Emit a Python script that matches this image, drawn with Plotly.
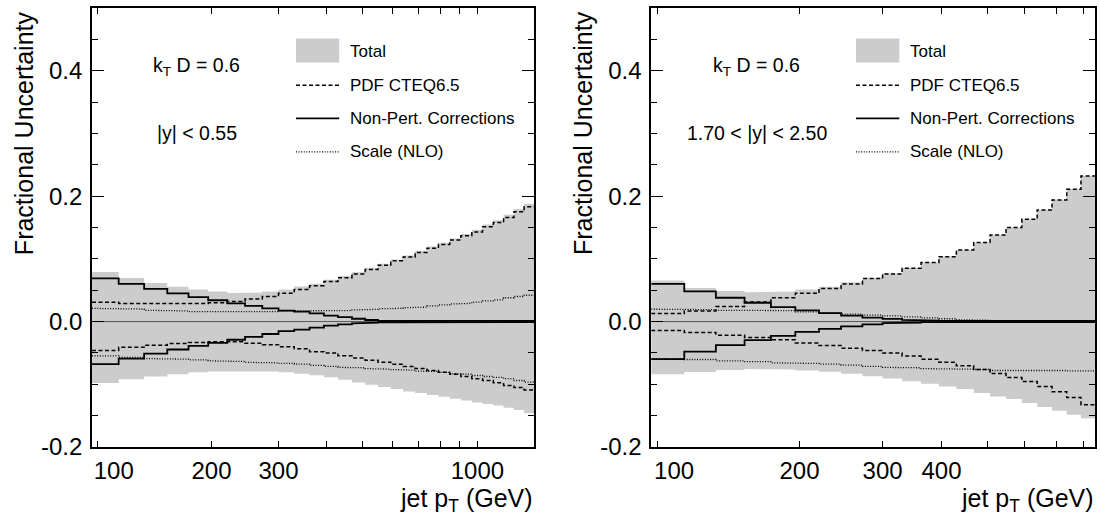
import math
import plotly.graph_objects as go

# ---------------- data ----------------
pt_edges_left = [97, 114, 133, 153, 174, 196, 220, 245, 272, 300, 330, 362, 395, 430, 468,
                 507, 548, 592, 638, 686, 737, 790, 846, 905, 967, 1032, 1101, 1172, 1248,
                 1327, 1410]
pt_edges_right = [97, 114, 133, 153, 174, 196, 220, 245, 272, 300, 330, 362, 395, 430, 468,
                  507, 548, 592, 638, 686, 737, 790, 846]

# |y| < 0.55
total_up_left = [0.079, 0.0696, 0.0616, 0.0555, 0.051, 0.048, 0.0457, 0.0462, 0.048, 0.051,
                 0.056, 0.0603, 0.0665, 0.0725, 0.0788, 0.0857, 0.0921, 0.0989, 0.1053, 0.1124,
                 0.1196, 0.1258, 0.1326, 0.1395, 0.1463, 0.1546, 0.1617, 0.1703, 0.1795, 0.1878]
total_lo_left = [-0.098, -0.0918, -0.0875, -0.0838, -0.081, -0.0796, -0.0785, -0.079, -0.0796,
                 -0.081, -0.0833, -0.0854, -0.0886, -0.0928, -0.097, -0.1008, -0.1045, -0.1077,
                 -0.1115, -0.114, -0.117, -0.120, -0.123, -0.126, -0.129, -0.1316, -0.134,
                 -0.1374, -0.141, -0.146]
pdf_up_left = [0.031, 0.029, 0.028, 0.028, 0.029, 0.030, 0.032, 0.036, 0.040, 0.045, 0.051,
               0.057, 0.064, 0.070, 0.076, 0.083, 0.090, 0.097, 0.103, 0.110, 0.117, 0.123,
               0.130, 0.137, 0.143, 0.151, 0.158, 0.166, 0.175, 0.183]
pdf_lo_left = [-0.046, -0.041, -0.0376, -0.035, -0.0334, -0.032, -0.0323, -0.0345, -0.037,
               -0.040, -0.0435, -0.048, -0.050, -0.0546, -0.058, -0.0615, -0.0647, -0.068,
               -0.0716, -0.0748, -0.078, -0.081, -0.084, -0.0876, -0.091, -0.094, -0.0976,
               -0.102, -0.105, -0.109]
np_up_left = [0.069, 0.060, 0.052, 0.045, 0.039, 0.034, 0.029, 0.025, 0.021, 0.0175, 0.016,
              0.013, 0.0095, 0.007, 0.0045, 0.0025, 0.0012, 0.001, 0.001, 0.001, 0.001, 0.001,
              0.001, 0.001, 0.001, 0.001, 0.001, 0.001, 0.001, 0.001]
np_lo_left = [-0.068, -0.059, -0.051, -0.0445, -0.0387, -0.034, -0.029, -0.0244, -0.0198,
              -0.0153, -0.013, -0.0095, -0.0065, -0.0045, -0.0028, -0.0018, -0.0012, -0.001,
              -0.001, -0.001, -0.001, -0.001, -0.001, -0.001, -0.001, -0.001, -0.001, -0.001,
              -0.001, -0.001]
scale_up_left = [0.021, 0.020, 0.018, 0.017, 0.016, 0.0155, 0.015, 0.0155, 0.016, 0.017, 0.017,
                 0.0165, 0.017, 0.0175, 0.0185, 0.0195, 0.0205, 0.021, 0.022, 0.023, 0.025,
                 0.0265, 0.028, 0.029, 0.031, 0.033, 0.0345, 0.038, 0.040, 0.042]
scale_lo_left = [-0.0546, -0.057, -0.059, -0.060, -0.061, -0.0626, -0.0637, -0.065, -0.0658,
                 -0.0668, -0.068, -0.070, -0.0716, -0.073, -0.0737, -0.075, -0.0758, -0.0765,
                 -0.0775, -0.079, -0.0796, -0.081, -0.083, -0.084, -0.086, -0.0876, -0.089,
                 -0.091, -0.094, -0.0966]

# 1.70 < |y| < 2.50
total_up_right = [0.0653, 0.0537, 0.0489, 0.0468, 0.0478, 0.051, 0.0557, 0.0627, 0.070, 0.077,
                  0.0855, 0.0943, 0.1037, 0.1141, 0.1261, 0.1381, 0.1501, 0.1631, 0.1781,
                  0.1941, 0.2111, 0.2321]
total_lo_right = [-0.0838, -0.0806, -0.0774, -0.0758, -0.0764, -0.078, -0.080, -0.0833, -0.087,
                  -0.0908, -0.095, -0.099, -0.1035, -0.1077, -0.114, -0.1194, -0.1236, -0.130,
                  -0.1363, -0.142, -0.1486, -0.154]
pdf_up_right = [0.0127, 0.017, 0.024, 0.0314, 0.038, 0.045, 0.0526, 0.060, 0.0685, 0.076, 0.085,
                0.094, 0.1035, 0.114, 0.126, 0.138, 0.150, 0.163, 0.178, 0.194, 0.211, 0.232]
pdf_lo_right = [-0.0143, -0.0175, -0.0217, -0.0255, -0.029, -0.034, -0.038, -0.0424, -0.046,
                -0.050, -0.055, -0.060, -0.065, -0.0705, -0.0764, -0.083, -0.089, -0.0955,
                -0.1035, -0.112, -0.121, -0.1327]
np_up_right = [0.060, 0.048, 0.038, 0.030, 0.023, 0.0178, 0.0134, 0.0096, 0.0064, 0.0043, 0.0027,
               0.0015, 0.001, 0.001, 0.001, 0.001, 0.001, 0.001, 0.001, 0.001, 0.001, 0.001]
np_lo_right = [-0.060, -0.0478, -0.0375, -0.0295, -0.0228, -0.0165, -0.0115, -0.0075, -0.0045,
               -0.0025, -0.0015, -0.001, -0.001, -0.001, -0.001, -0.001, -0.001, -0.001,
               -0.001, -0.001, -0.001, -0.001]
scale_up_right = [0.0197, 0.019, 0.018, 0.0178, 0.0175, 0.0155, 0.0138, 0.0118, 0.0102, 0.009,
                  0.0075, 0.006, 0.0045, 0.003, 0.002, 0.0015, 0.001, 0.001, 0.001, 0.001,
                  0.001, 0.001]
scale_lo_right = [-0.059, -0.0605, -0.0626, -0.064, -0.0658, -0.0668, -0.068, -0.0695, -0.0716,
                  -0.073, -0.0737, -0.075, -0.0753, -0.076, -0.0764, -0.078, -0.078, -0.077,
                  -0.078, -0.078, -0.0785, -0.0785]

y_tick_vals = [-0.2, 0.0, 0.2, 0.4]
y_tick_text = ["-0.2", "0.0", "0.2", "0.4"]
x_label_vals_left = [100, 200, 300, 1000]
x_label_vals_right = [100, 200, 300, 400]
legend_labels = ["Total", "PDF CTEQ6.5", "Non-Pert. Corrections", "Scale (NLO)"]
jet_label = "k<sub>T</sub> D = 0.6"
rap_left = "|y| &lt; 0.55"
rap_right = "1.70 &lt; |y| &lt; 2.50"

# ---------------- layout geometry ----------------
W, H = 1100, 517
ML, MR, MT, MB = 92, 3, 8, 70
PW, PH = W - ML - MR, H - MT - MB
FONT = "Liberation Sans, Arial, Helvetica, sans-serif"
GRAY = "#cccccc"


def px2paper_x(px):
    return (px - ML) / PW


def px2paper_y(py):
    return 1 - (py - MT) / PH


def steps(edges, vals):
    xs, ys = [], []
    for i, v in enumerate(vals):
        xs += [edges[i], edges[i + 1]]
        ys += [v, v]
    return xs, ys


fig = go.Figure()

panels = [
    dict(edges=pt_edges_left, tu=total_up_left, tl=total_lo_left, pu=pdf_up_left,
         pl=pdf_lo_left, nu=np_up_left, nl=np_lo_left, su=scale_up_left, sl=scale_lo_left,
         xa="x", ya="y"),
    dict(edges=pt_edges_right, tu=total_up_right, tl=total_lo_right, pu=pdf_up_right,
         pl=pdf_lo_right, nu=np_up_right, nl=np_lo_right, su=scale_up_right,
         sl=scale_lo_right, xa="x2", ya="y2"),
]

for p in panels:
    e = p["edges"]
    xu, yu = steps(e, p["tu"])
    xl, yl = steps(e, p["tl"])
    fig.add_trace(go.Scatter(x=xu + xl[::-1], y=yu + yl[::-1], fill="toself",
                             fillcolor=GRAY, line=dict(width=0), mode="lines",
                             hoverinfo="skip", showlegend=False, xaxis=p["xa"], yaxis=p["ya"]))
    fig.add_trace(go.Scatter(x=[e[0], e[-1]], y=[0, 0], mode="lines",
                             line=dict(color="#555555", width=1), showlegend=False,
                             xaxis=p["xa"], yaxis=p["ya"]))
    for key, dash, width in [("su", "1px,1.6px", 1.3), ("sl", "1px,1.6px", 1.3),
                             ("pu", "4px,2.5px", 1.5), ("pl", "4px,2.5px", 1.5),
                             ("nu", "solid", 1.8), ("nl", "solid", 1.8)]:
        xs, ys = steps(e, p[key])
        fig.add_trace(go.Scatter(x=xs, y=ys, mode="lines",
                                 line=dict(color="black", width=width, dash=dash),
                                 showlegend=False, xaxis=p["xa"], yaxis=p["ya"]))

# ---------------- axes ----------------
tickfont = dict(family=FONT, size=24, color="black")
left_dom = [0, 443.0 / PW]
right_dom = [(652.3 - ML) / PW, 1.0]


def xaxis_common(edges, labels, minor_vals, domain, anchor):
    texts = []
    for v in labels:
        t = str(v)
        if v == 100:
            t = "\u00a0" * 5 + t
        texts.append(t)
    return dict(type="log", range=[math.log10(edges[0]), math.log10(edges[-1])],
                domain=domain, anchor=anchor, tickmode="array", tickvals=labels,
                ticktext=texts, ticks="inside", ticklen=6, tickwidth=1.2, tickcolor="black",
                showline=True, linewidth=1.6, linecolor="black", mirror="allticks",
                showgrid=False, zeroline=False, tickfont=tickfont, ticklabelstandoff=1,
                minor=dict(tickmode="array", tickvals=minor_vals, ticks="inside", ticklen=6,
                           tickwidth=1.2, tickcolor="black", showgrid=False))


def yaxis_common(anchor):
    return dict(range=[-0.2, 0.5], anchor=anchor, domain=[0, 1], tickmode="array",
                tickvals=y_tick_vals, ticktext=y_tick_text, ticks="inside", ticklen=12,
                tickwidth=1.2, tickcolor="black", showline=True, linewidth=1.6,
                linecolor="black", mirror="allticks", showgrid=False, zeroline=False,
                tickfont=tickfont, ticklabelstandoff=3,
                minor=dict(dtick=0.05, tick0=0, ticks="inside", ticklen=6, tickwidth=1.2,
                           tickcolor="black", showgrid=False))


minor_left = [400, 500, 600, 700, 800, 900]
minor_right = [500, 600, 700, 800]

fig.update_layout(
    xaxis=xaxis_common(pt_edges_left, x_label_vals_left, minor_left, left_dom, "y"),
    xaxis2=xaxis_common(pt_edges_right, x_label_vals_right, minor_right, right_dom, "y2"),
    yaxis=yaxis_common("x"),
    yaxis2=yaxis_common("x2"),
    # decade ticks (longer)
    xaxis3=dict(type="log", overlaying="x", anchor="y", side="bottom",
                range=[math.log10(pt_edges_left[0]), math.log10(pt_edges_left[-1])],
                tickmode="array", tickvals=[100, 1000], ticks="inside", ticklen=12,
                tickwidth=1.2, tickcolor="black", showticklabels=False, showline=False,
                mirror="allticks", showgrid=False, zeroline=False),
    xaxis4=dict(type="log", overlaying="x2", anchor="y2", side="bottom",
                range=[math.log10(pt_edges_right[0]), math.log10(pt_edges_right[-1])],
                tickmode="array", tickvals=[100], ticks="inside", ticklen=12,
                tickwidth=1.2, tickcolor="black", showticklabels=False, showline=False,
                mirror="allticks", showgrid=False, zeroline=False),
)

# ---------------- texts, legends ----------------
annotations = []
shapes = []
frame_right_px = [535.3, 1097.0]
ytitle_x_px = [24, 584]
for i, (xa, ya) in enumerate([("x", "y"), ("x2", "y2")]):
    xd, yd = xa + " domain", ya + " domain"
    annotations.append(dict(text="Fractional Uncertainty", textangle=-90, xref="paper",
                            yref="paper", x=px2paper_x(ytitle_x_px[i]), y=px2paper_y(9),
                            xanchor="center", yanchor="top", showarrow=False,
                            font=dict(family=FONT, size=25, color="black")))
    annotations.append(dict(text="jet p<sub>T</sub> (GeV)", xref="paper", yref="paper",
                            x=px2paper_x(frame_right_px[i] + 1), y=px2paper_y(500),
                            xanchor="right", yanchor="middle", showarrow=False,
                            font=dict(family=FONT, size=25, color="black")))
    annotations.append(dict(text=jet_label, xref=xd, yref=yd, x=0.237,
                            y=(447.3 - 66) / 439.6, xanchor="center", yanchor="middle",
                            showarrow=False, font=dict(family=FONT, size=19.5, color="black")))
    annotations.append(dict(text=rap_left if i == 0 else rap_right, xref=xd, yref=yd,
                            x=0.238, y=(447.3 - 133) / 439.6, xanchor="center",
                            yanchor="middle", showarrow=False,
                            font=dict(family=FONT, size=19.5, color="black")))
    lx0, lx1 = 0.4614, 0.5591
    rows = [0.8999, 0.8240, 0.7485, 0.6724]
    shapes.append(dict(type="rect", xref=xd, yref=yd, x0=lx0, x1=lx1, y0=0.8758, y1=0.9304,
                       fillcolor=GRAY, line=dict(width=0), layer="above"))
    for r, dash, width in [(rows[1], "4px,2.5px", 1.5), (rows[2], "solid", 1.8),
                           (rows[3], "1px,1.6px", 1.3)]:
        shapes.append(dict(type="line", xref=xd, yref=yd, x0=lx0, x1=lx1, y0=r, y1=r,
                           line=dict(color="black", width=width, dash=dash), layer="above"))
    for r, lab in zip(rows, legend_labels):
        annotations.append(dict(text=lab, xref=xd, yref=yd, x=0.578, y=r, xanchor="left",
                                yanchor="middle", showarrow=False,
                                font=dict(family=FONT, size=17, color="black")))

fig.update_layout(
    width=W, height=H, margin=dict(l=ML, r=MR, t=MT, b=MB),
    paper_bgcolor="white", plot_bgcolor="white", showlegend=False,
    annotations=annotations, shapes=shapes,
    font=dict(family=FONT, color="black"),
)

fig.write_html("out.html", config={"displayModeBar": False},
               post_script="document.body.style.margin='0';"
                           "document.body.style.overflow='hidden';")
